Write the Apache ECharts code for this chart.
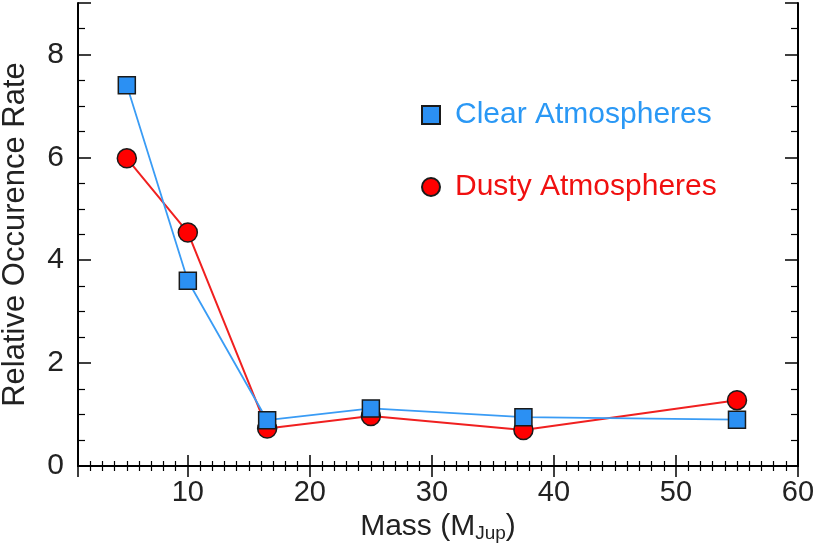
<!DOCTYPE html>
<html>
<head>
<meta charset="utf-8">
<script src="https://cdn.jsdelivr.net/npm/echarts@6/dist/echarts.min.js"></script>
<style>
  html, body { margin: 0; padding: 0; background: #fff; }
  #chart { width: 825px; height: 555px; }
</style>
</head>
<body>
<div id="chart"></div>
<script>
// data
const masses = [5, 10, 16.5, 25, 37.5, 55];
const clearRates = [7.4, 3.6, 0.89, 1.12, 0.95, 0.9];
const dustyRates = [5.98, 4.54, 0.73, 0.97, 0.7, 1.28];
const seriesNames = ['Clear Atmospheres', 'Dusty Atmospheres'];

const font = 'Liberation Sans, Arial, Helvetica, sans-serif';
const blue = '#2b90f3';
const red = '#ff0000';

const toPoints = (ys) => masses.map((m, i) => [m, ys[i]]);

const chart = echarts.init(document.getElementById('chart'));

// shared look of the boxed axes (ticks pointing inward)
const xBase = {
  type: 'value', min: 1, max: 60, splitNumber: 6, minInterval: 10, maxInterval: 10,
  axisLine: { show: true, lineStyle: { color: '#000', width: 2 } },
  axisTick: { show: true, inside: true, length: 11, lineStyle: { color: '#000', width: 1.5 } },
  minorTick: { show: true, splitNumber: 10, length: 5, lineStyle: { color: '#000', width: 1.2 } },
  splitLine: { show: false }
};
const yBase = {
  type: 'value', min: 0, max: 9, interval: 2,
  axisLine: { show: true, lineStyle: { color: '#000', width: 2 } },
  axisTick: { show: true, inside: true, length: 13, lineStyle: { color: '#000', width: 1.5 } },
  minorTick: { show: true, splitNumber: 4, length: 7, lineStyle: { color: '#000', width: 1.2 } },
  splitLine: { show: false }
};

const option = {
  backgroundColor: '#fff',
  animation: false,
  grid: { left: 78, right: 27, top: 3, bottom: 89, containLabel: false, outerBoundsMode: 'none' },
  legend: {
    orient: 'vertical',
    left: 416,
    top: 95,
    itemWidth: 18,
    itemHeight: 18,
    itemGap: 42,
    textStyle: { fontFamily: font, fontSize: 30, lineHeight: 30, padding: [0, 0, 0, 10] },
    data: [
      { name: seriesNames[0], icon: 'rect', textStyle: { color: '#2a98f5' } },
      { name: seriesNames[1], icon: 'circle', textStyle: { color: '#f01010' } }
    ]
  },
  xAxis: [
    Object.assign({}, xBase, {
      position: 'bottom',
      name: '{t|Mass (M}{s|Jup}{t|)}',
      nameLocation: 'middle',
      nameGap: 44,
      nameTextStyle: {
        rich: {
          t: { fontFamily: font, fontSize: 30, color: '#222' },
          s: { fontFamily: font, fontSize: 19, color: '#222', padding: [14, 0, 0, 0] }
        }
      },
      axisLabel: { show: true, showMinLabel: false, margin: 12, fontFamily: font, fontSize: 29, color: '#222' }
    }),
    Object.assign({}, xBase, { position: 'top', axisLabel: { show: false } })
  ],
  yAxis: [
    Object.assign({}, yBase, {
      position: 'left',
      name: 'Relative Occurence Rate',
      nameLocation: 'middle',
      nameGap: 47,
      nameTextStyle: { fontFamily: font, fontSize: 31, color: '#222' },
      axisLabel: { show: true, showMaxLabel: false, margin: 14, fontFamily: font, fontSize: 30, color: '#222' }
    }),
    Object.assign({}, yBase, { position: 'right', axisLabel: { show: false } })
  ],
  series: [
    {
      name: seriesNames[1],
      type: 'line',
      data: toPoints(dustyRates),
      symbol: 'circle',
      symbolSize: 19,
      lineStyle: { color: '#f02020', width: 2 },
      itemStyle: { color: red, borderColor: '#1a1a1a', borderWidth: 1.5 },
      z: 2
    },
    {
      name: seriesNames[0],
      type: 'line',
      data: toPoints(clearRates),
      symbol: 'rect',
      symbolSize: 17,
      lineStyle: { color: '#3a9cf5', width: 1.8 },
      itemStyle: { color: blue, borderColor: '#1a1a1a', borderWidth: 1.5 },
      z: 3
    }
  ]
};

chart.setOption(option);
</script>
</body>
</html>
